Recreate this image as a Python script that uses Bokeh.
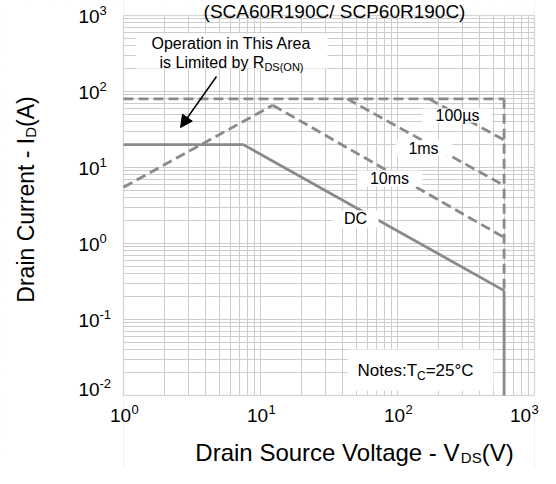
import numpy as np
from bokeh.plotting import figure
from bokeh.models import Label, BoxAnnotation, Arrow, NormalHead, Range1d
from bokeh.embed import file_html
from bokeh.resources import INLINE

# ---------------- data ----------------
pulse_v = [1, 600]
pulse_i = [80, 80]
us100_v = [170, 600]
us100_i = [80, 23]
ms1_v = [43, 600]
ms1_i = [80, 5.8]
ms10_v = [12.3, 600]
ms10_i = [66, 1.2]
rds_v = [1, 12.3]
rds_i = [5.5, 66]
dc_v = [1, 7.5, 600]
dc_i = [20, 20, 0.24]
vmax_v = [600, 600]
vmax_dash_i = [80, 0.24]
vmax_solid_i = [0.24, 0.01]

curve_labels = ["100µs", "1ms", "10ms", "DC"]
x_ticks = [1, 10, 100, 1000]
x_tick_exp = ["0", "1", "2", "3"]
y_ticks = [0.01, 0.1, 1, 10, 100, 1000]
y_tick_exp = ["-2", "-1", "0", "1", "2", "3"]

title_text = "(SCA60R190C/ SCP60R190C)"
note_text = ["Notes:T", "C", "=25°C"]
rds_text = ["Operation in This Area", "is Limited by R", "DS(ON)"]
xlabel_text = ["Drain Source Voltage - V", "DS", "(V)"]
ylabel_text = ["Drain Current - I", "D", "(A)"]

# ---------------- layout helpers (canvas pixels -> data) ----------------
FONT = "Liberation Sans"
FX0, PXD = 123, 137.0   # canvas x of V=1, px per decade
FY0, PYD = 15, 76.0     # canvas y of I=1000, px per decade
CW, CH = 540, 468


def vx(px):
    return 10 ** ((px - FX0) / PXD)


def iy(py):
    return 10 ** (3 - (py - FY0) / PYD)


AW = dict(zip("abcdefghijklmnopqrstuvwxyz",
              [556, 556, 500, 556, 556, 278, 556, 556, 222, 222, 500, 222, 833,
               556, 556, 556, 556, 333, 500, 278, 556, 500, 722, 500, 500, 500]))
AW.update(dict(zip("ABCDEFGHIJKLMNOPQRSTUVWXYZ",
                   [667, 667, 722, 722, 667, 611, 778, 722, 278, 500, 667, 556, 833,
                    722, 778, 667, 778, 722, 667, 611, 722, 667, 944, 667, 667, 611])))
AW.update({" ": 278, "-": 333, "(": 333, ")": 333, ":": 278, "=": 584,
           "°": 400, "µ": 576, "/": 278})


def tw(s, fs):
    return sum(AW.get(c, 556) for c in s) / 1000.0 * fs


LINE_C = "#8a8a8a"
LW = 2.8
DASH = "10 5"
GRID_C = "#cdcdcd"

xmin, xmax = x_ticks[0], x_ticks[-1]
ymin, ymax = y_ticks[0], y_ticks[-1]

# frame covers the whole canvas; the chart area is drawn inside it
p = figure(width=CW, height=CH, x_axis_type="log", y_axis_type="log",
           x_range=Range1d(vx(0), vx(CW)), y_range=Range1d(iy(CH), iy(0)),
           output_backend="svg", toolbar_location=None,
           min_border=0, min_border_left=0, min_border_right=0,
           min_border_top=0, min_border_bottom=0)
p.title.visible = False
p.xaxis.visible = False
p.yaxis.visible = False
p.background_fill_color = "white"
p.border_fill_color = "white"
p.outline_line_color = None
for g in (p.xgrid, p.ygrid):
    g.grid_line_color = GRID_C
    g.grid_line_width = 1
    g.minor_grid_line_color = GRID_C
    g.minor_grid_line_width = 1

# mask grid outside the chart area (under the curves)
masks = [(vx(-40), xmin, iy(CH + 40), iy(-40)), (xmax, vx(CW + 40), iy(CH + 40), iy(-40)),
         (xmin, xmax, ymax, iy(-40)), (xmin, xmax, iy(CH + 40), ymin)]
for l, r, b, t in masks:
    p.add_layout(BoxAnnotation(left=l, right=r, bottom=b, top=t, fill_color="white",
                               fill_alpha=1.0, line_color=None, level="underlay"))
p.add_layout(BoxAnnotation(left=xmin, right=xmax, bottom=ymin, top=ymax, fill_alpha=0.0,
                           line_color="#b0b0b0", line_width=1.5, level="underlay"))

# ---------------- curves ----------------
p.line(pulse_v, pulse_i, line_color=LINE_C, line_width=LW, line_dash=DASH)
p.line(us100_v, us100_i, line_color=LINE_C, line_width=LW, line_dash=DASH)
p.line(ms1_v, ms1_i, line_color=LINE_C, line_width=LW, line_dash=DASH)
p.line(ms10_v, ms10_i, line_color=LINE_C, line_width=LW, line_dash=DASH)
p.line(rds_v, rds_i, line_color=LINE_C, line_width=LW, line_dash=DASH)
p.line(vmax_v, vmax_dash_i, line_color=LINE_C, line_width=LW, line_dash=DASH)
p.line(dc_v, dc_i, line_color=LINE_C, line_width=LW)
p.line(vmax_v, vmax_solid_i, line_color=LINE_C, line_width=LW)

# ---------------- white label boxes ----------------
boxes = [(135, 327, 33, 68), (422, 492, 108, 122), (395, 452, 140, 155),
         (357, 422, 170, 186), (332, 378, 210, 227), (347, 493, 349, 390)]
for x0, x1, y0, y1 in boxes:
    p.add_layout(BoxAnnotation(left=vx(x0), right=vx(x1), top=iy(y0), bottom=iy(y1),
                               fill_color="white", fill_alpha=1.0, line_color=None))


def lab(text, px, py, fs, align="left", baseline="middle", angle=0.0):
    p.add_layout(Label(x=vx(px), y=iy(py), text=text, text_font=FONT,
                       text_font_size=f"{fs}px", text_color="black",
                       text_align=align, text_baseline=baseline, angle=angle))


# curve labels
for t, (cx, cy) in zip(curve_labels, [(457, 115), (423, 148), (389, 178), (355, 218)]):
    lab(t, cx, cy, 16, align="center")

# Operation in this area
lab(rds_text[0], 231, 43, 16, align="center")
w1 = tw(rds_text[1], 16)
w2 = tw(rds_text[2], 11)
sx = 231 - (w1 + w2) / 2
lab(rds_text[1], sx, 62, 16)
lab(rds_text[2], sx + w1, 66, 11)

# arrow
p.add_layout(Arrow(end=NormalHead(size=12, fill_color="black", line_color="black", line_width=1),
                   x_start=vx(216), y_start=iy(76), x_end=vx(180), y_end=iy(127),
                   line_color="black", line_width=1.5))

# notes
w1 = tw(note_text[0], 17)
w2 = tw(note_text[1], 12)
lab(note_text[0], 357, 370, 17)
lab(note_text[1], 357 + w1, 375, 12)
lab(note_text[2], 357 + w1 + w2, 370, 17)

# title
lab(title_text, 334, 0, 19, align="center", baseline="top")

# x tick labels
for k, (t, e) in enumerate(zip(x_ticks, x_tick_exp)):
    tx = FX0 + np.log10(t) * PXD
    shift = -3 if k < len(x_ticks) - 1 else -14
    lab("10", tx + shift, 415, 19, align="center")
    lab(e, tx + shift + 11, 409, 13)

# y tick labels
for t, e in zip(y_ticks, y_tick_exp):
    ty = FY0 + (3 - np.log10(t)) * PYD
    ly = min(ty + 1, 389)
    lab("10", 78, ly, 19)
    lab(e, 99, ly - 6, 13)

# x axis label
FS, FSS = 24, 15
w1 = tw(xlabel_text[0], FS)
w2 = tw(xlabel_text[1], FSS)
w3 = tw(xlabel_text[2], FS)
sx = 354 - (w1 + w2 + w3) / 2
lab(xlabel_text[0], sx, 452, FS)
lab(xlabel_text[1], sx + w1, 457, FSS)
lab(xlabel_text[2], sx + w1 + w2, 452, FS)

# y axis label (rotated, reading bottom to top)
FS = 23
w1 = tw(ylabel_text[0], FS)
w2 = tw(ylabel_text[1], FSS)
w3 = tw(ylabel_text[2], FS)
sy = 199 + (w1 + w2 + w3) / 2
lab(ylabel_text[0], 25, sy, FS, angle=np.pi / 2)
lab(ylabel_text[1], 30, sy - w1, FSS, angle=np.pi / 2)
lab(ylabel_text[2], 25, sy - w1 - w2, FS, angle=np.pi / 2)

open("out.html", "w").write(file_html(p, INLINE))
